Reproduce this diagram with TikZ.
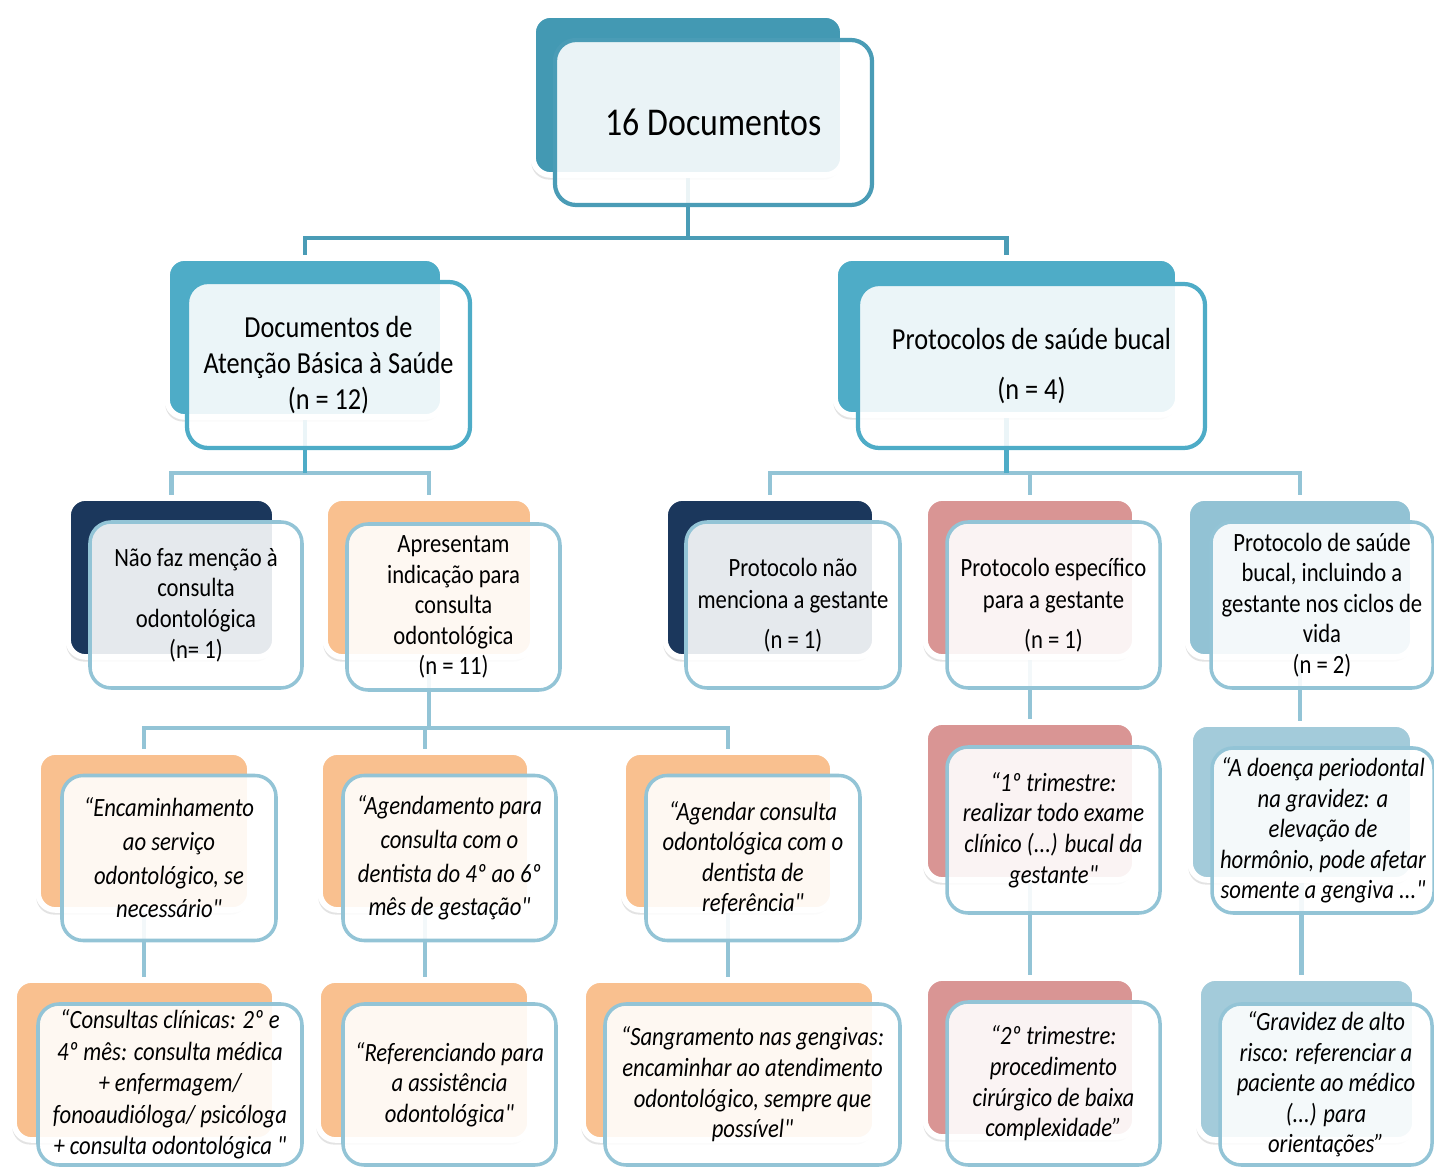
\documentclass[tikz,border=0pt]{standalone}
\usepackage{fontspec}
\newfontfamily\carl{Carlito}[FakeStretch=0.86]
\usepackage{tikz}
\usetikzlibrary{shadows}
\definecolor{cTEAL}{HTML}{4399B3}
\definecolor{cTEALL}{HTML}{4EACC7}
\definecolor{cNAVY}{HTML}{1B375C}
\definecolor{cORG}{HTML}{F9C08F}
\definecolor{cROSE}{HTML}{D99594}
\definecolor{cSKY}{HTML}{92C2D4}
\definecolor{cSKYL}{HTML}{A3CBDA}
\definecolor{cLINE}{HTML}{93C4D6}
\definecolor{cEDGE}{HTML}{4A9CB6}
\pgfdeclarelayer{bg}
\pgfsetlayers{bg,main}

\begin{document}
\begin{tikzpicture}[
  txt/.style 2 args={font=\carl\fontsize{#1}{#2}\selectfont},
  itx/.style 2 args={font=\carl\fontsize{#1}{#2}\selectfont\itshape},
  bk/.style={draw=white, line width=1.6pt, rounded corners=5pt, minimum width=2.10cm, minimum height=1.58cm,
    drop shadow={shadow xshift=-0.5pt, shadow yshift=-1.3pt, opacity=0.22}},
  fr/.style={draw=cLINE, line width=1pt, rounded corners=6pt, fill=white, fill opacity=0.89, text opacity=1,
    align=center, inner sep=1pt, minimum width=2.14cm, minimum height=1.65cm, txt={7.5}{8.7}},
  qt/.style={fr, itx={7.5}{8.7}},
  top/.style={draw=#1, line width=1.2pt},
  lnk/.style={draw=#1, line width=1.2pt}, lnk/.default=cLINE]
\useasboundingbox (0,0) rectangle (14.34,-11.67);
\clip (0,0) rectangle (14.34,-11.67);

\node[bk, fill=cTEAL, minimum width=3.10cm, minimum height=1.60cm] (root-b) at (6.88,-0.95) {};
\node[fr, top=cEDGE, minimum width=3.17cm, minimum height=1.65cm, txt={11.2}{13}] (root) at (7.135,-1.225) {16 Documentos};

\node[bk, fill=cTEALL, minimum width=2.76cm, minimum height=1.59cm] (abs-b) at (3.05,-3.375) {};
\node[fr, top=cTEALL, minimum width=2.83cm, minimum height=1.66cm, txt={8.7}{10.3}] (abs) at (3.285,-3.65)
  {Documentos de\\Atenção Básica à Saúde\\(n = 12)};
\node[bk, fill=cTEALL, minimum width=3.43cm, minimum height=1.57cm] (prot-b) at (10.065,-3.365) {};
\node[fr, top=cTEALL, minimum width=3.47cm, minimum height=1.64cm, txt={8.7}{10.3}] (prot) at (10.315,-3.66)
  {Protocolos de saúde bucal\\[4pt](n = 4)};

\node[bk, fill=cNAVY, minimum width=2.07cm, minimum height=1.59cm] (nao-b) at (1.715,-5.775) {};
\node[fr, minimum width=2.12cm, minimum height=1.66cm] (nao) at (1.96,-6.05)
  {Não faz menção à\\consulta\\odontológica\\(n= 1)};
\node[bk, fill=cORG, minimum width=2.08cm, minimum height=1.59cm] (apr-b) at (4.29,-5.775) {};
\node[fr, minimum width=2.13cm, minimum height=1.66cm] (apr) at (4.535,-6.07)
  {Apresentam\\indicação para\\consulta\\odontológica\\(n = 11)};
\node[bk, fill=cNAVY, minimum height=1.59cm] (pnao-b) at (7.70,-5.775) {};
\node[fr, minimum height=1.66cm, txt={7.5}{9.1}] (pnao) at (7.93,-6.05)
  {Protocolo não\\menciona a gestante\\[2.3pt](n = 1)};
\node[bk, fill=cROSE, minimum height=1.59cm] (pesp-b) at (10.30,-5.775) {};
\node[fr, minimum width=2.13cm, minimum height=1.66cm, txt={7.5}{9.1}] (pesp) at (10.535,-6.05)
  {Protocolo específico\\para a gestante\\[2.3pt](n = 1)};
\node[bk, fill=cSKY, minimum width=2.26cm, minimum height=1.59cm] (ciclo-b) at (13.00,-5.775) {};
\node[fr, minimum width=2.22cm, minimum height=1.66cm] (ciclo) at (13.22,-6.05)
  {Protocolo de saúde\\bucal, incluindo a\\gestante nos ciclos de\\vida\\(n = 2)};

\node[bk, fill=cORG, minimum width=2.12cm] (enc-b) at (1.44,-8.31) {};
\node[qt, itx={7.5}{9.6}] (enc) at (1.69,-8.58)
  {“Encaminhamento\\ao serviço\\odontológico, se\\necessário"};
\node[bk, fill=cORG] (agd-b) at (4.25,-8.31) {};
\node[qt, minimum width=2.13cm, itx={7.5}{9.6}] (agd) at (4.495,-8.58)
  {“Agendamento para\\consulta com o\\dentista do 4º ao 6º\\mês de gestação"};
\node[bk, fill=cORG] (agc-b) at (7.28,-8.31) {};
\node[qt] (agc) at (7.53,-8.58)
  {“Agendar consulta\\odontológica com o\\dentista de\\referência"};
\node[bk, fill=cROSE] (tri1-b) at (10.30,-8.01) {};
\node[qt, minimum width=2.13cm, minimum height=1.66cm] (tri1) at (10.535,-8.30)
  {“1º trimestre:\\realizar todo exame\\clínico (...) bucal da\\gestante"};
\node[bk, fill=cSKYL, minimum width=2.23cm, minimum height=1.56cm] (perio-b) at (13.015,-8.02) {};
\node[qt, minimum width=2.22cm] (perio) at (13.23,-8.305)
  {“A doença periodontal\\na gravidez: a\\elevação de\\hormônio, pode afetar\\somente a gengiva ..."};

\node[bk, fill=cORG, minimum width=2.61cm, minimum height=1.60cm] (cons-b) at (1.445,-10.60) {};
\node[qt, minimum width=2.64cm, minimum height=1.61cm, itx={7.5}{9.0}] (cons) at (1.70,-10.845)
  {“Consultas clínicas: 2º e\\4º mês: consulta médica\\+ enfermagem/\\fonoaudióloga/ psicóloga\\+ consulta odontológica "};
\node[bk, fill=cORG, minimum width=2.12cm, minimum height=1.60cm] (ref-b) at (4.24,-10.60) {};
\node[qt, minimum width=2.13cm, minimum height=1.61cm] (ref) at (4.495,-10.845)
  {“Referenciando para\\a assistência\\odontológica"};
\node[bk, fill=cORG, minimum width=2.92cm, minimum height=1.60cm] (sang-b) at (7.29,-10.60) {};
\node[qt, minimum width=2.95cm, minimum height=1.61cm] (sang) at (7.525,-10.845)
  {“Sangramento nas gengivas:\\encaminhar ao atendimento\\odontológico, sempre que\\possível"};
\node[bk, fill=cROSE, minimum height=1.59cm] (tri2-b) at (10.30,-10.575) {};
\node[qt, minimum width=2.13cm, minimum height=1.63cm] (tri2) at (10.535,-10.835)
  {“2º trimestre:\\procedimento\\cirúrgico de baixa\\complexidade”};
\node[bk, fill=cSKYL, minimum width=2.17cm, minimum height=1.62cm] (grav-b) at (13.065,-10.59) {};
\node[qt, minimum width=2.12cm, minimum height=1.61cm] (grav) at (13.26,-10.845)
  {“Gravidez de alto\\risco: referenciar a\\paciente ao médico\\(...) para\\orientações”};

\begin{pgfonlayer}{bg}
\draw[lnk=cEDGE] (root-b.south) -- ++(0,-0.60) -| (abs-b.north);
\draw[lnk=cEDGE] (root-b.south) -- ++(0,-0.60) -| (prot-b.north);
\draw[lnk] (abs-b.south) -- ++(0,-0.53) -| (nao-b.north);
\draw[lnk] (abs-b.south) -- ++(0,-0.53) -| (apr-b.north);
\draw[lnk=cTEALL] (abs-b.south) -- ++(0,-0.53);
\draw[lnk] (prot-b.south) -- ++(0,-0.55) -| (pnao-b.north);
\draw[lnk] (prot-b.south) -- ++(0,-0.55) -| (pesp-b.north);
\draw[lnk] (prot-b.south) -- ++(0,-0.55) -| (ciclo-b.north);
\draw[lnk=cTEALL] (prot-b.south) -- ++(0,-0.55);
\draw[lnk] (apr-b.south) -- ++(0,-0.68) -| (enc-b.north);
\draw[lnk] (apr-b.south) -- ++(0,-0.68) -| (agd-b.north);
\draw[lnk] (apr-b.south) -- ++(0,-0.68) -| (agc-b.north);
\draw[lnk] (pesp-b.south) -- (tri1-b.north);
\draw[lnk] (ciclo-b.south) -- (ciclo-b.south |- perio-b.north);
\draw[lnk] (enc-b.south) -- (enc-b.south |- cons-b.north);
\draw[lnk] (agd-b.south) -- (agd-b.south |- ref-b.north);
\draw[lnk] (agc-b.south) -- (agc-b.south |- sang-b.north);
\draw[lnk] (tri1-b.south) -- (tri2-b.north);
\draw[lnk] (perio-b.south) -- (perio-b.south |- grav-b.north);
\end{pgfonlayer}
\end{tikzpicture}
\end{document}
